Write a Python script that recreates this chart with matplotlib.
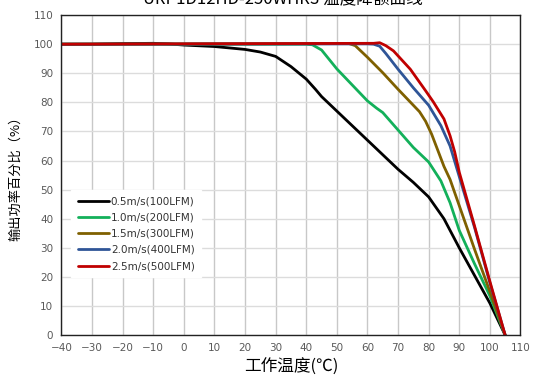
import matplotlib
matplotlib.use("Agg")
import matplotlib.pyplot as plt

plt.rcParams['font.family'] = ['DejaVu Sans', 'Noto Sans CJK SC']

# temperature (C) / output power (%)
t_05 = [-40, -30, -20, -10, -5, 0, 10, 20, 25, 30, 35, 40, 43, 45, 50, 55, 60, 65, 70, 75, 80, 85, 90, 95, 100, 105]
p_05 = [100, 100, 100.2, 100.3, 100.1, 99.7, 99.2, 98.2, 97.3, 95.8, 92.3, 88, 84.5, 82, 77, 72, 67, 62, 57, 52.5, 47.5, 40, 30, 20.5, 11, 0]

t_10 = [-40, 40, 42, 45, 50, 55, 60, 63, 65, 70, 75, 80, 84, 87, 90, 95, 100, 105]
p_10 = [100, 100, 99.8, 98, 91.5, 86, 80.5, 78, 76.5, 70.5, 64.5, 59.5, 53, 45.5, 36, 24.5, 13.5, 0]

t_15 = [-40, 50, 54, 56, 60, 65, 70, 75, 77, 79, 81, 83, 85, 87, 90, 95, 100, 105]
p_15 = [100, 100.2, 100.2, 99.5, 95.5, 90.2, 84.5, 79, 76.8, 73.5, 69, 63.5, 58, 53.5, 44.5, 29.5, 15, 0]

t_20 = [-40, 60, 62, 64, 66, 70, 75, 80, 84, 87, 90, 95, 100, 105]
p_20 = [100, 100.1, 100, 99.3, 96.8, 91.4, 85, 79, 72, 65, 54.5, 37, 18, 0]

t_25 = [-40, 62, 64, 66, 68.5, 74, 79, 81.5, 85, 87, 88.5, 90, 95, 100, 105]
p_25 = [100, 100.3, 100.5, 99.5, 97.7, 91.4, 84, 80.2, 74.3, 68.5, 63, 56, 37.5, 18.5, 0]

labels = ["0.5m/s(100LFM)", "1.0m/s(200LFM)", "1.5m/s(300LFM)", "2.0m/s(400LFM)", "2.5m/s(500LFM)"]
colors = ["#000000", "#13b05a", "#7f6000", "#2f5597", "#c00000"]

x_ticks = list(range(-40, 111, 10))
y_ticks = list(range(0, 111, 10))

fig = plt.figure(figsize=(5.36, 3.87), dpi=100)
ax = fig.add_axes([0.1147, 0.134, 0.8563, 0.827])

series = [(t_05, p_05), (t_10, p_10), (t_15, p_15), (t_20, p_20), (t_25, p_25)]
for (t, p), lab, c in zip(series, labels, colors):
    ax.plot(t, p, color=c, lw=2.0, label=lab, solid_capstyle='round', solid_joinstyle='round')

ax.set_xlim(-40, 110)
ax.set_ylim(0, 110)
ax.set_xticks(x_ticks)
ax.set_yticks(y_ticks)
ax.tick_params(length=0, labelsize=7.5, labelcolor='#595959', pad=6)
ax.xaxis.grid(True, color='#c8c8c8', lw=1.0)
ax.yaxis.grid(True, color='#dcdcdc', lw=1.0)
ax.set_axisbelow(True)
for s in ax.spines.values():
    s.set_color('#222222')
    s.set_linewidth(1.0)

ax.set_xlabel("工作温度(℃)", fontsize=12, family=['Noto Sans CJK SC', 'DejaVu Sans'], labelpad=4)
ax.set_ylabel("输出功率百分比（%）", fontsize=9.5, family=['Noto Sans CJK SC', 'DejaVu Sans'], labelpad=8)

fig.text(0.528, 1 - 3 / 387, "URP1D12HD-250WHR3 温度降额曲线", ha='center', va='baseline',
         fontsize=12, family=['Noto Sans CJK SC', 'DejaVu Sans'])

leg = ax.legend(loc='upper left', bbox_to_anchor=(0.01, 0.47), frameon=True, fancybox=False,
                fontsize=7.5, handlelength=3.0, handletextpad=0.2, labelspacing=0.6,
                borderpad=0.6)
leg.get_frame().set_edgecolor('white')
leg.get_frame().set_facecolor('white')
leg.get_frame().set_alpha(1.0)
for txt in leg.get_texts():
    txt.set_color('#333333')

fig.savefig("out.png", dpi=100)
